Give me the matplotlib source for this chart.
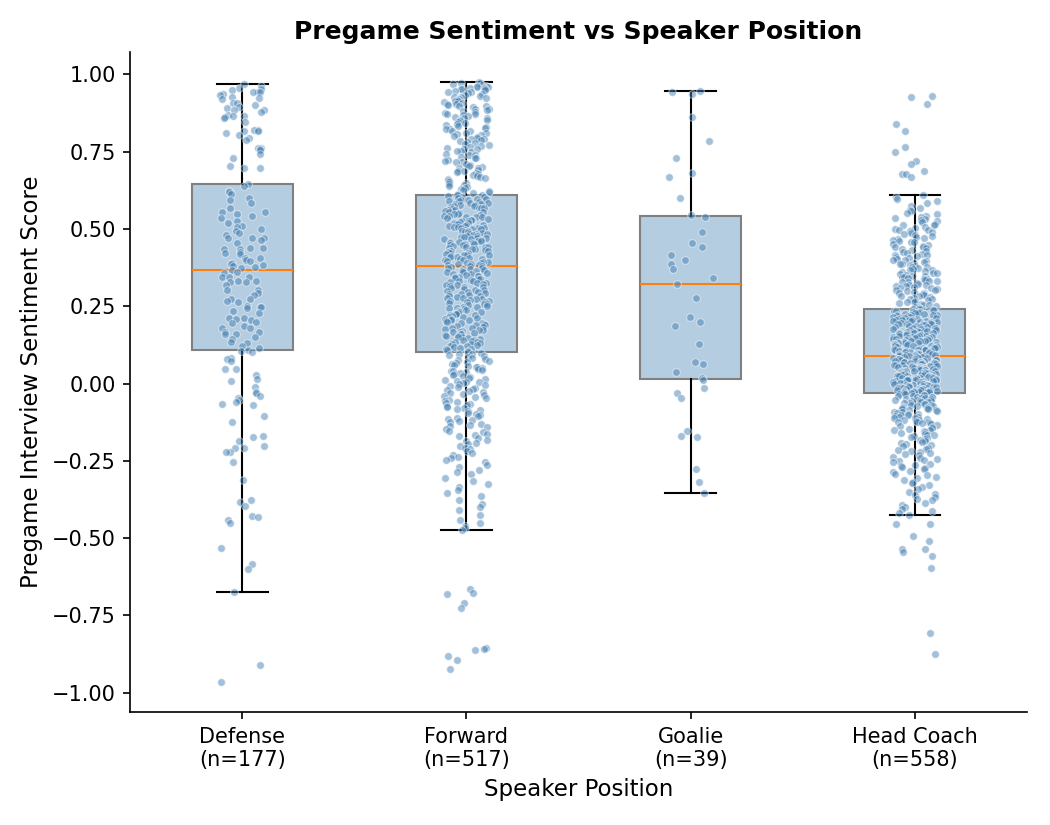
import numpy as np
import pandas as pd
import seaborn as sns
from matplotlib import pyplot as plt

# categorias e valores
posicoes = ["Defense", "Forward", "Goalie", "Head Coach"]

defense = [
    0.969, 0.962, 0.957, 0.952, 0.949, 0.944, 0.944, 0.942, 0.936, 0.933, 0.928, 0.922, 0.920,
    0.908, 0.906, 0.901, 0.893, 0.890, 0.884, 0.884, 0.877, 0.868, 0.866, 0.866, 0.863, 0.858,
    0.847, 0.820, 0.820, 0.818, 0.815, 0.811, 0.802, 0.793, 0.786, 0.763, 0.761, 0.757, 0.754,
    0.741, 0.728, 0.704, 0.698, 0.696, 0.644, 0.639,
    0.624, 0.620, 0.612, 0.601, 0.593, 0.585, 0.566, 0.556, 0.554, 0.548, 0.542, 0.536, 0.525,
    0.518, 0.510, 0.507, 0.500, 0.493, 0.488, 0.480, 0.469, 0.469, 0.469, 0.464, 0.455, 0.439,
    0.437, 0.435, 0.434, 0.426, 0.421, 0.418, 0.407, 0.405, 0.398, 0.396, 0.389, 0.386, 0.383,
    0.381, 0.378, 0.372, 0.367, 0.362, 0.356, 0.346, 0.346, 0.345, 0.332, 0.332, 0.327, 0.327,
    0.318, 0.302, 0.302, 0.294, 0.285, 0.273, 0.273, 0.268, 0.262, 0.252, 0.249, 0.249, 0.243,
    0.233, 0.227, 0.213, 0.211, 0.209, 0.205, 0.200, 0.195, 0.186, 0.179, 0.179, 0.168, 0.166,
    0.159, 0.159, 0.151, 0.143, 0.134, 0.130, 0.122, 0.116, 0.108, 0.105, 0.103,
    0.081, 0.079, 0.073, 0.046, 0.046, 0.029, 0.014, 0.008, -0.011, -0.027, -0.032, -0.040,
    -0.046, -0.054, -0.061, -0.065, -0.070, -0.105, -0.126, -0.169, -0.173, -0.187, -0.203,
    -0.208, -0.210, -0.221, -0.223, -0.254, -0.311, -0.375, -0.383, -0.396, -0.428, -0.430,
    -0.442, -0.451, -0.532, -0.582, -0.600, -0.673, -0.909, -0.965,
]

forward = [
    0.975, 0.972, 0.971, 0.968, 0.966, 0.963, 0.962, 0.960, 0.958, 0.957, 0.955, 0.953, 0.952, 0.951,
    0.948, 0.946, 0.943, 0.941, 0.940, 0.936, 0.934, 0.930, 0.928, 0.927, 0.923, 0.921, 0.917,
    0.915, 0.914, 0.911, 0.908, 0.905, 0.903, 0.901,
    0.898, 0.896, 0.893, 0.889, 0.887, 0.884, 0.882, 0.879, 0.875, 0.873, 0.871, 0.867, 0.864,
    0.861, 0.859, 0.857, 0.853, 0.851,
    0.848, 0.846, 0.842, 0.838, 0.836, 0.834, 0.830, 0.826, 0.824, 0.822, 0.818, 0.815, 0.811,
    0.809, 0.807, 0.803, 0.801,
    0.798, 0.794, 0.792, 0.790, 0.786, 0.783, 0.781, 0.777, 0.773, 0.771, 0.769, 0.765, 0.761,
    0.759, 0.757, 0.753, 0.751,
    0.747, 0.743, 0.740, 0.738, 0.734, 0.730, 0.728, 0.724, 0.719, 0.717, 0.715, 0.710, 0.706,
    0.704, 0.701,
    0.698, 0.696, 0.692, 0.688, 0.686, 0.684, 0.680, 0.676, 0.674, 0.672, 0.668, 0.664, 0.662,
    0.659, 0.655, 0.652,
    0.648, 0.646, 0.642, 0.638, 0.636, 0.633, 0.629, 0.625, 0.623, 0.619, 0.616, 0.613,
    0.611, 0.609, 0.608, 0.606, 0.603, 0.602, 0.600, 0.598, 0.596, 0.595, 0.593, 0.590, 0.589,
    0.588, 0.585, 0.584, 0.582, 0.580, 0.578, 0.577, 0.575, 0.573, 0.572, 0.569, 0.567, 0.566,
    0.563, 0.561, 0.560, 0.557, 0.555, 0.553, 0.551,
    0.549, 0.548, 0.546, 0.543, 0.542, 0.540, 0.538, 0.537, 0.535, 0.533, 0.530, 0.529, 0.528,
    0.525, 0.524, 0.522, 0.520, 0.519, 0.517, 0.515, 0.513, 0.512, 0.510, 0.508, 0.507, 0.505,
    0.504, 0.503, 0.502, 0.501,
    0.499, 0.497, 0.494, 0.493, 0.491, 0.489, 0.488, 0.485, 0.484, 0.482, 0.480, 0.478, 0.476,
    0.475, 0.473, 0.471, 0.469, 0.468, 0.466, 0.464, 0.462, 0.460, 0.458, 0.457, 0.455, 0.453,
    0.452, 0.451,
    0.449, 0.447, 0.445, 0.443, 0.441, 0.440, 0.438, 0.436, 0.434, 0.432, 0.430, 0.428, 0.427,
    0.425, 0.423, 0.421, 0.419, 0.417, 0.415, 0.414, 0.412, 0.410, 0.408, 0.406, 0.404, 0.402,
    0.400, 0.398, 0.396, 0.394, 0.392, 0.390, 0.389, 0.387, 0.386, 0.384, 0.383, 0.381,
    0.379, 0.377, 0.375, 0.373, 0.371, 0.369, 0.367, 0.365, 0.363, 0.361, 0.359, 0.357, 0.355,
    0.353, 0.351, 0.349, 0.347, 0.345, 0.343, 0.341, 0.339, 0.337, 0.335, 0.333, 0.331, 0.329,
    0.326, 0.324, 0.322, 0.320, 0.318, 0.316, 0.313, 0.311, 0.309, 0.306, 0.304, 0.302,
    0.299, 0.297, 0.295, 0.293, 0.290, 0.288, 0.286, 0.284, 0.282, 0.280, 0.278, 0.276, 0.274,
    0.272, 0.270, 0.268, 0.266, 0.264, 0.262, 0.260, 0.258, 0.256, 0.254, 0.252,
    0.249, 0.247, 0.245, 0.243, 0.240, 0.238, 0.236, 0.234, 0.232, 0.230, 0.228, 0.226, 0.224,
    0.222, 0.220, 0.218, 0.216, 0.214, 0.212, 0.210, 0.208, 0.206, 0.204, 0.202,
    0.199, 0.197, 0.195, 0.192, 0.190, 0.188, 0.186, 0.183, 0.181, 0.179, 0.177, 0.174, 0.172,
    0.170, 0.168, 0.165, 0.163, 0.161, 0.159, 0.157, 0.155, 0.153, 0.151,
    0.149, 0.147, 0.145, 0.142, 0.140, 0.138, 0.135, 0.133, 0.131, 0.129, 0.127, 0.124, 0.122,
    0.120, 0.118, 0.115, 0.113, 0.111, 0.109, 0.106,
    0.103, 0.100, 0.097, 0.094, 0.091, 0.088, 0.085, 0.082, 0.079, 0.076, 0.073, 0.070, 0.067,
    0.064, 0.061, 0.058, 0.055, 0.053, 0.051,
    0.048, 0.045, 0.042, 0.039, 0.036, 0.033, 0.030, 0.027, 0.024, 0.021, 0.018, 0.015, 0.012,
    0.009, 0.006, 0.004, 0.001,
    -0.002, -0.005, -0.008, -0.011, -0.014, -0.017, -0.021, -0.024, -0.027, -0.031, -0.034,
    -0.038, -0.041, -0.044, -0.048,
    -0.052, -0.055, -0.059, -0.062, -0.066, -0.069, -0.073, -0.076, -0.080, -0.083, -0.087,
    -0.090, -0.094, -0.098,
    -0.102, -0.106, -0.110, -0.114, -0.118, -0.122, -0.126, -0.130, -0.134, -0.138, -0.142, -0.147,
    -0.152, -0.157, -0.162, -0.166, -0.171, -0.176, -0.181, -0.186, -0.191, -0.196,
    -0.203, -0.208, -0.213, -0.219, -0.224, -0.230, -0.236, -0.242, -0.247,
    -0.254, -0.262, -0.270, -0.278, -0.286, -0.294,
    -0.305, -0.315, -0.325, -0.335, -0.345,
    -0.355, -0.365, -0.378, -0.388, -0.398,
    -0.410, -0.425, -0.440, -0.452, -0.460, -0.468, -0.475,
    -0.663, -0.676, -0.681, -0.710, -0.726, -0.854, -0.858, -0.860, -0.882, -0.893, -0.923,
]

goalie = [
    0.945, 0.942, 0.935, 0.863, 0.785, 0.730, 0.682, 0.667, 0.599, 0.545, 0.540, 0.489, 0.453,
    0.442, 0.417, 0.398, 0.388, 0.369, 0.340, 0.323, 0.275, 0.216, 0.200, 0.187, 0.129, 0.068,
    0.064, 0.038, 0.018, 0.012, -0.016, -0.030, -0.046, -0.154, -0.172, -0.170, -0.276, -0.320,
    -0.353,
]

head_coach = [
    0.931, 0.928, 0.903, 0.838, 0.818, 0.764, 0.747, 0.721, 0.709, 0.688, 0.679, 0.676, 0.669,
    0.608, 0.603, 0.596, 0.590, 0.583, 0.575, 0.569, 0.562, 0.557, 0.552,
    0.547, 0.543, 0.540, 0.536, 0.532, 0.528, 0.524, 0.521, 0.517, 0.514, 0.511, 0.507, 0.504, 0.501,
    0.498, 0.495, 0.492, 0.489, 0.486, 0.483, 0.480, 0.477, 0.474, 0.471, 0.468, 0.465, 0.462,
    0.459, 0.456, 0.452,
    0.448, 0.445, 0.442, 0.440, 0.437, 0.434, 0.431, 0.428, 0.425, 0.422, 0.419, 0.417, 0.414,
    0.411, 0.408, 0.406, 0.403, 0.401,
    0.398, 0.396, 0.393, 0.391, 0.388, 0.386, 0.383, 0.381, 0.378, 0.376, 0.373, 0.371, 0.368,
    0.366, 0.363, 0.361, 0.358, 0.356, 0.353, 0.351,
    0.349, 0.347, 0.345, 0.343, 0.341, 0.339, 0.337, 0.335, 0.333, 0.331, 0.329, 0.327, 0.325,
    0.322, 0.320, 0.318, 0.316, 0.314, 0.312, 0.310, 0.308, 0.306, 0.304, 0.302,
    0.299, 0.297, 0.294, 0.292, 0.289, 0.287, 0.284, 0.282, 0.279, 0.277, 0.274, 0.272, 0.269,
    0.267, 0.264, 0.262, 0.259, 0.257, 0.255, 0.253, 0.251, 0.249, 0.247, 0.245,
    0.242, 0.241, 0.240, 0.239, 0.237, 0.236, 0.235, 0.234, 0.232, 0.231, 0.230, 0.229, 0.227,
    0.226, 0.225, 0.223, 0.222, 0.221, 0.220, 0.218, 0.217, 0.216, 0.214, 0.213, 0.212, 0.211,
    0.209, 0.208, 0.207, 0.206, 0.205, 0.204, 0.203, 0.202, 0.201, 0.200,
    0.199, 0.198, 0.197, 0.195, 0.194, 0.193, 0.192, 0.191, 0.189, 0.188, 0.187, 0.186, 0.184,
    0.183, 0.182, 0.181, 0.180, 0.178, 0.177, 0.176, 0.175, 0.174, 0.172, 0.171, 0.170, 0.169,
    0.168, 0.166, 0.165, 0.164, 0.163, 0.162, 0.160, 0.159, 0.158, 0.157, 0.156, 0.155, 0.154,
    0.153, 0.152, 0.151, 0.150,
    0.149, 0.148, 0.147, 0.146, 0.145, 0.144, 0.143, 0.142, 0.141, 0.140, 0.139, 0.138, 0.137,
    0.136, 0.135, 0.134, 0.133, 0.132, 0.131, 0.130, 0.129, 0.128, 0.127, 0.126, 0.125, 0.124,
    0.123, 0.122, 0.121, 0.120, 0.119, 0.118, 0.117, 0.116, 0.115, 0.114, 0.113, 0.112, 0.111,
    0.110, 0.109, 0.108, 0.107, 0.106, 0.105, 0.104, 0.103, 0.102, 0.101, 0.100, 0.099, 0.098,
    0.097, 0.096, 0.095, 0.094, 0.093, 0.092, 0.092, 0.091,
    0.090, 0.089, 0.088, 0.088, 0.087, 0.086, 0.085, 0.084, 0.083, 0.082, 0.081, 0.080, 0.080,
    0.079, 0.078, 0.077, 0.076, 0.075, 0.074, 0.073, 0.072, 0.071, 0.070, 0.069, 0.068, 0.067,
    0.066, 0.066, 0.065, 0.064, 0.063, 0.062, 0.061, 0.060, 0.059, 0.058, 0.057, 0.056, 0.055,
    0.055, 0.054, 0.053, 0.052, 0.051, 0.051, 0.050,
    0.049, 0.048, 0.047, 0.047, 0.046, 0.045, 0.044, 0.043, 0.042, 0.041, 0.041, 0.040, 0.039,
    0.038, 0.037, 0.036, 0.035, 0.035, 0.034, 0.033, 0.032, 0.031, 0.030, 0.029, 0.029, 0.028,
    0.027, 0.026, 0.025, 0.024, 0.023, 0.023, 0.022, 0.021, 0.020, 0.019, 0.018, 0.017, 0.017,
    0.016, 0.015, 0.014, 0.013, 0.012, 0.011, 0.011, 0.010, 0.009, 0.008, 0.007, 0.006, 0.005,
    0.004, 0.002, 0.001,
    -0.001, -0.001, -0.002, -0.003, -0.004, -0.004, -0.005, -0.006, -0.007, -0.008, -0.008,
    -0.009, -0.010, -0.011, -0.011, -0.012, -0.013, -0.014, -0.015, -0.015, -0.016, -0.017,
    -0.018, -0.018, -0.019, -0.020, -0.021, -0.022, -0.022, -0.023, -0.024, -0.025, -0.025,
    -0.026, -0.027, -0.027, -0.028, -0.029,
    -0.030, -0.031, -0.033, -0.034, -0.036, -0.037, -0.039, -0.040, -0.042, -0.043, -0.045,
    -0.046, -0.048, -0.049, -0.051, -0.052, -0.054, -0.055, -0.057, -0.058, -0.060, -0.061,
    -0.063, -0.064, -0.066, -0.067, -0.069, -0.070, -0.072, -0.073, -0.075, -0.076, -0.078,
    -0.079,
    -0.081, -0.083, -0.085, -0.087, -0.089, -0.091, -0.093, -0.095, -0.097, -0.099, -0.101,
    -0.103, -0.105, -0.107, -0.109, -0.111, -0.113, -0.115, -0.117, -0.119, -0.121, -0.123,
    -0.125, -0.126, -0.128, -0.129,
    -0.132, -0.135, -0.138, -0.141, -0.143, -0.146, -0.149, -0.151, -0.154, -0.157, -0.160,
    -0.162, -0.165, -0.168, -0.171, -0.173, -0.176, -0.179,
    -0.182, -0.186, -0.189, -0.193, -0.196, -0.200, -0.203, -0.207, -0.211, -0.214, -0.218,
    -0.221, -0.225, -0.228,
    -0.232, -0.236, -0.240, -0.244, -0.247, -0.251, -0.255, -0.259, -0.262, -0.266, -0.270,
    -0.273, -0.277,
    -0.282, -0.287, -0.292, -0.297, -0.302, -0.307, -0.312, -0.317, -0.322, -0.327,
    -0.335, -0.342, -0.350, -0.356, -0.362, -0.368, -0.372, -0.378,
    -0.385, -0.392, -0.398, -0.405, -0.412, -0.418, -0.424,
    -0.454, -0.454, -0.493, -0.509, -0.535, -0.535, -0.546, -0.558, -0.597, -0.808, -0.875,
]

dados = [defense, forward, goalie, head_coach]

"""Tabela longa para o stripplot"""
df = pd.DataFrame({
    "posicao": np.repeat(posicoes, [len(d) for d in dados]),
    "score": np.concatenate(dados),
})

"""Plotagem"""
fig, ax = plt.subplots(figsize=(7, 5.5), dpi=150)
fig.subplots_adjust(left=0.124, right=0.978, top=0.937, bottom=0.137)

ax.boxplot(
    dados, positions=range(len(posicoes)), widths=0.45, patch_artist=True, showfliers=False,
    boxprops=dict(facecolor=(0.275, 0.51, 0.706, 0.4), edgecolor="gray", linewidth=1),
    medianprops=dict(color="#ff7f0e", linewidth=1),
    whiskerprops=dict(color="black", linewidth=1),
    capprops=dict(color="black", linewidth=1),
)

sns.stripplot(data=df, x="posicao", y="score", order=posicoes, color="steelblue",
              alpha=0.5, size=3.7, jitter=0.1, edgecolor="white", linewidth=0.5,
              zorder=3, ax=ax)

ax.set_xticks(range(len(posicoes)))
ax.set_xticklabels([f"{p}\n(n={len(d)})" for p, d in zip(posicoes, dados)], fontsize=10)
ax.tick_params(axis="y", labelsize=10)
ax.set_xlim(-0.5, 3.5)
ax.set_xlabel("Speaker Position", fontsize=11)
ax.set_ylabel("Pregame Interview Sentiment Score", fontsize=11)
ax.set_title("Pregame Sentiment vs Speaker Position", fontsize=12, fontweight="bold")
ax.spines["top"].set_visible(False)
ax.spines["right"].set_visible(False)

plt.savefig("out.png", dpi=150)
